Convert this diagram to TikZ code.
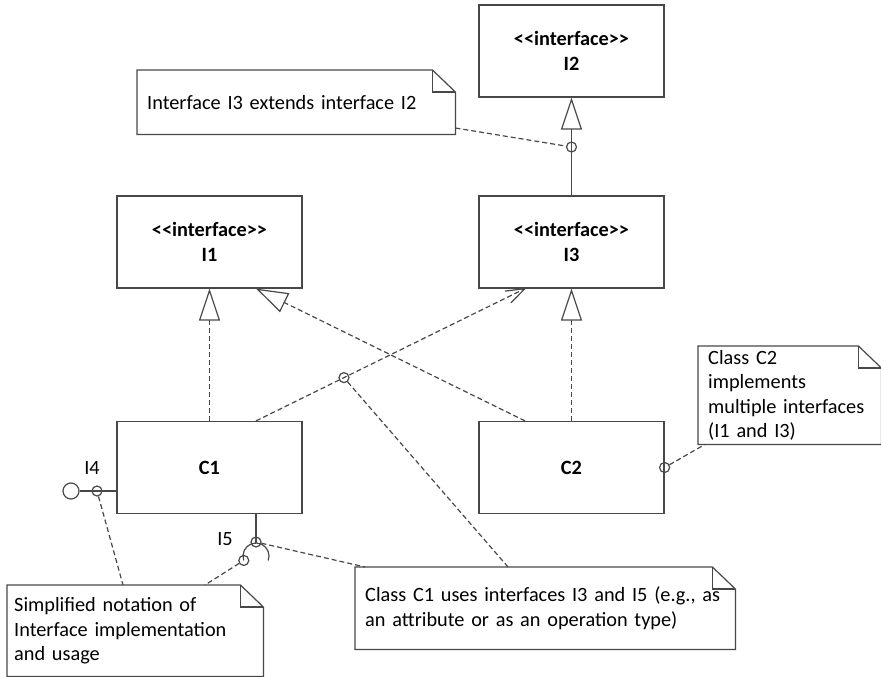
\documentclass[tikz,border=0pt]{standalone}
\usepackage{fontspec}
\setmainfont{Carlito}[Ligatures=TeXOff]
\usetikzlibrary{arrows.meta,calc}

\definecolor{lc}{RGB}{72,72,72}

\tikzset{
  txt/.style={font=\fontsize{20.3}{24.5}\selectfont},
  base/.style={line width=1.2pt, draw=lc},
  umlbox/.style={base, rectangle, minimum width=185pt, minimum height=92pt,
    inner sep=0pt, align=center, font=\fontsize{20.3}{24.5}\selectfont\bfseries},
  notebox/.style={rectangle, anchor=north west, align=left, inner sep=0pt,
    inner xsep=10pt},
  dashline/.style={base, dash pattern=on 5pt off 3pt},
  port/.style={base, circle, minimum size=10pt, inner sep=0pt},
  realize/.style={-{Triangle[open, length=32pt, width=21pt, line width=1.2pt]}},
}

% dog-eared outline around a note node
\newcommand\dogear[1]{%
  \draw[base] (#1.north west) -- ([xshift=-23pt]#1.north east)
    -- ([yshift=-22pt]#1.north east) -- (#1.south east)
    -- (#1.south west) -- cycle;
  \draw[base] ([xshift=-23pt]#1.north east) -- ([xshift=-23pt,yshift=-22pt]#1.north east)
    -- ([yshift=-22pt]#1.north east);
}

\begin{document}
\begin{tikzpicture}[x=1pt, y=-1pt, txt]
\useasboundingbox (0,0) rectangle (881,677);

% classes and interfaces
\node[umlbox] (I2) at (571.5,51)    {<<interface>>\\I2};
\node[umlbox] (I1) at (209.5,242)   {<<interface>>\\I1};
\node[umlbox] (I3) at (571.5,242)   {<<interface>>\\I3};
\node[umlbox] (C1) at (209.5,467.5) {C1};
\node[umlbox] (C2) at (571.5,467.5) {C2};

% notes
\node[notebox, minimum width=318pt, minimum height=64pt, text width=298pt]
  (nA) at (137,70) {Interface I3 extends interface I2};
\node[notebox, minimum width=183pt, minimum height=98pt, text width=163pt]
  (nB) at (698,346) {Class C2\\implements\\multiple interfaces\\(I1 and I3)};
\node[notebox, minimum width=380pt, minimum height=82pt, text width=360pt]
  (nC) at (355,567) {Class C1 uses interfaces I3 and I5 (e.g., as\\an attribute or as an operation type)};
\node[notebox, minimum width=256pt, minimum height=91pt, text width=242pt, inner xsep=3pt]
  (nD) at (7,585) {Simplified notation of\\Interface implementation\\and usage};
\dogear{nA}
\dogear{nB}
\dogear{nC}
\dogear{nD}

% connection points on the class boxes
\coordinate (c1top) at ([xshift=46.5pt]C1.north);
\coordinate (c2top) at ([xshift=-46.5pt]C2.north);
\coordinate (i1bot) at ([xshift=46.5pt]I1.south);
\coordinate (i3bot) at ([xshift=-46.5pt]I3.south);
\coordinate (c1bot) at ([xshift=46.5pt]C1.south);
\coordinate (c1left) at ([yshift=-23.5pt]C1.west);

% generalization and realization arrows
\draw[base, realize] (I3.north) -- (I2.south);
\draw[dashline, realize] (C1.north) -- (I1.south);
\draw[dashline, realize] (C2.north) -- (I3.south);
\draw[dashline, realize] (c2top) -- (i1bot);

% dependency C1 -> I3 with an open vee head
\draw[dashline] (c1top) -- (i3bot);
\draw[base] ($(i3bot)!20pt!-19:(c1top)$) -- (i3bot) -- ($(i3bot)!20pt!19:(c1top)$);

% lollipop I4 (provided interface)
\node[base, circle, minimum size=16pt, inner sep=0pt] (ball) at (71,491) {};
\draw[base] (ball) -- (c1left);
\node (I4) at (92,468) {I4};

% socket I5 (required interface)
\coordinate (sockc) at (256,556);
\draw[base] (c1bot) -- ($(sockc)+(0,-13)$);
\draw[base] ($(sockc)+(160:13)$) arc[start angle=160, end angle=380, radius=13];
\node (I5) at (225,539) {I5};

% anchor circles for note links
\node[port] (k1) at (571.5,147) {};
\node[port] (k2) at ($(c1top)!0.327!(i3bot)$) {};
\node[port] (k3) at (C2.east) {};
\node[port] (k4) at (97,491) {};
\node[port] (k5) at (256,542) {};
\node[port] (k6) at ($(sockc)+(160:13)$) {};

% note links
\draw[dashline] (nA.east |- 0,128) -- (k1);
\draw[dashline] (k2) -- (nC.north west -| 508,0);
\draw[dashline] (k3) -- (nB.south west -| 705,0);
\draw[dashline] (k4) -- (nD.north west -| 123,0);
\draw[dashline] (k6) -- (nD.north west -| 205,0);
\draw[dashline] (k5) -- (nC.north west -| 365,0);
\end{tikzpicture}
\end{document}
